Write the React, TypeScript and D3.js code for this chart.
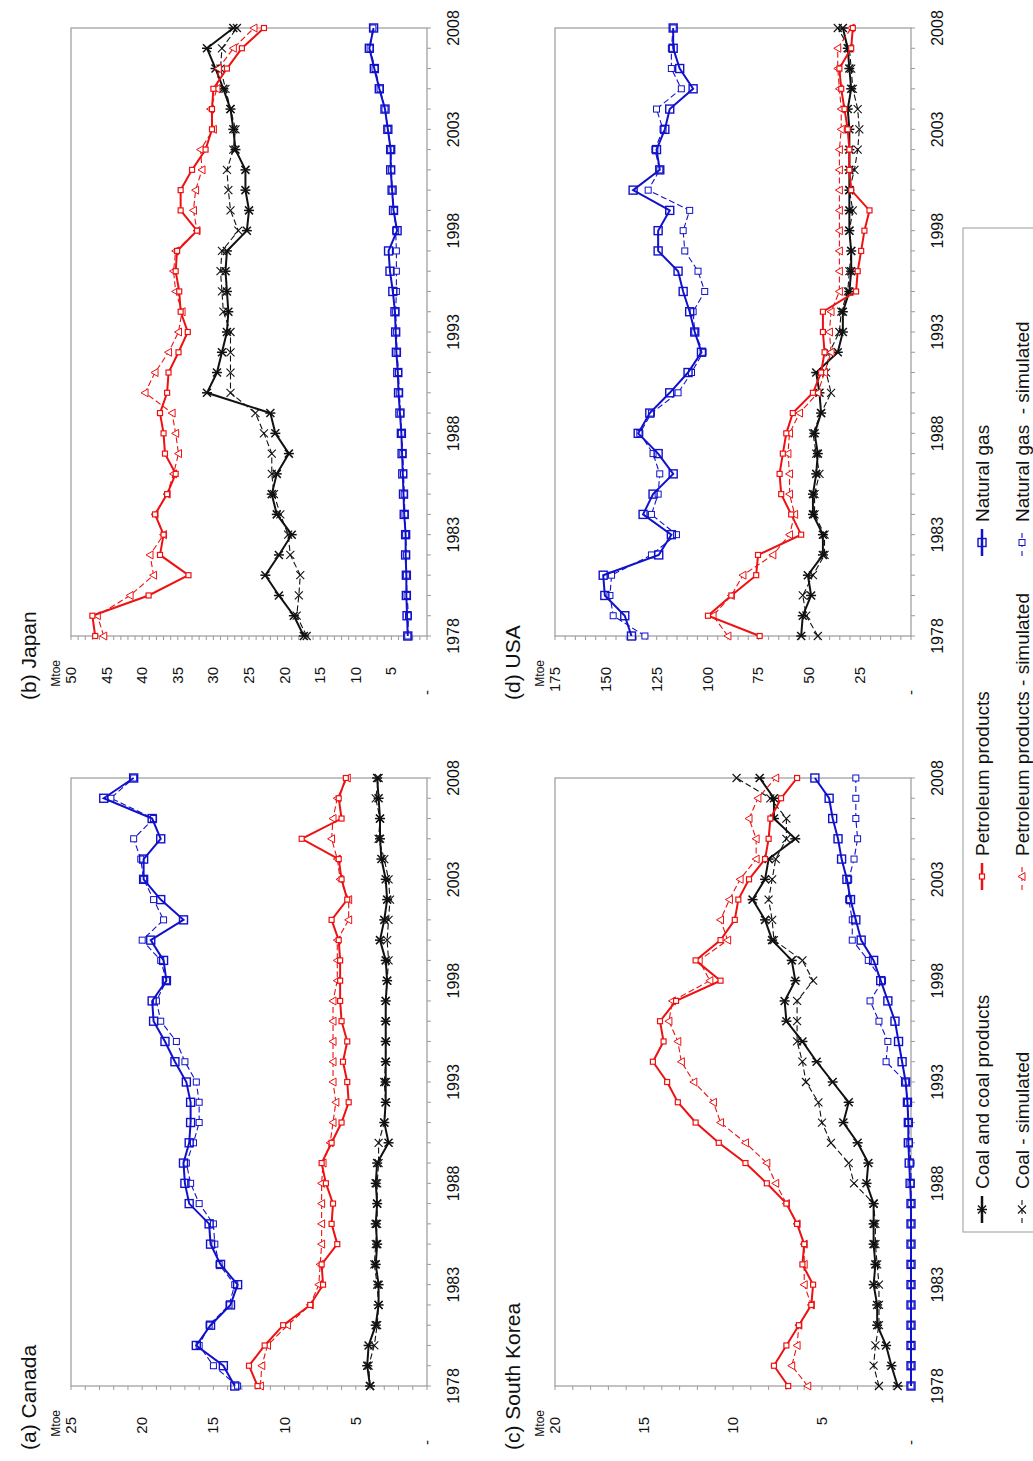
import React from 'react';
import * as d3 from 'd3';

const years = [1978,1979,1980,1981,1982,1983,1984,1985,1986,1987,1988,1989,1990,1991,1992,1993,1994,1995,1996,1997,1998,1999,2000,2001,2002,2003,2004,2005,2006,2007,2008];
const yearTicks = [1978, 1983, 1988, 1993, 1998, 2003, 2008];

// (a) Canada
const canCoal = [4.0,4.2,4.1,3.6,3.4,3.4,3.6,3.5,3.6,3.5,3.6,3.5,2.7,3.0,2.9,2.9,2.9,2.9,2.9,2.9,2.8,2.9,3.3,3.0,2.8,2.9,3.2,3.3,3.3,3.4,3.5];
const canCoalSim = [4.0,4.1,3.7,3.5,3.4,3.5,3.7,3.6,3.5,3.5,3.5,3.4,3.4,3.0,2.9,3.0,2.9,2.9,2.9,2.9,2.8,2.7,2.8,2.7,2.6,2.7,3.0,3.4,3.3,3.6,3.4];
const canPet = [11.9,12.5,11.4,10.1,8.2,7.3,7.4,6.3,6.7,6.6,7.1,7.4,6.7,6.0,5.5,5.6,5.9,5.6,6.0,6.1,6.1,6.1,6.2,6.7,5.6,6.0,6.2,8.8,6.0,6.2,5.7];
const canPetSim = [11.7,11.6,11.2,9.8,8.2,7.6,7.5,7.4,7.4,7.4,7.4,7.3,6.8,6.6,6.4,6.6,6.6,6.6,6.6,6.6,6.3,6.3,6.3,5.5,5.5,6.1,6.3,6.7,6.6,6.3,5.6];
const canGas = [13.5,14.3,16.2,15.2,13.8,13.3,14.5,15.2,15.3,16.7,17.0,17.1,16.7,16.6,16.6,16.9,17.7,18.4,19.2,19.3,18.3,18.5,19.4,17.1,18.7,19.9,19.9,18.7,19.3,22.7,20.6];
const canGasSim = [13.3,15.0,16.0,15.3,13.9,13.5,14.6,14.9,15.0,16.0,16.6,16.9,16.4,16.0,16.0,16.2,17.0,17.6,18.7,19.0,18.3,18.7,20.0,18.5,19.2,19.9,20.1,20.6,19.2,22.2,20.6];

// (b) Japan
const jpCoal = [17.3,18.7,20.8,22.7,20.8,19.0,21.1,21.8,21.1,19.4,21.3,22.0,30.9,29.5,28.8,28.1,27.9,28.1,28.3,28.1,25.3,25.0,25.5,25.5,26.9,27.2,27.6,28.6,29.7,30.9,27.2];
const jpCoalSim = [16.9,18.3,18.0,17.8,19.2,19.5,20.6,21.5,21.8,21.8,22.9,24.1,27.6,27.6,27.6,27.6,28.6,28.8,29.0,28.8,26.5,27.6,27.9,28.1,27.2,26.9,27.6,28.3,29.0,28.8,26.7];
const jpPet = [46.6,47.0,39.1,33.5,37.5,37.0,38.2,36.5,35.3,36.8,37.0,37.5,36.5,36.3,34.9,33.6,34.6,34.8,35.3,35.1,32.3,34.6,34.6,33.0,31.1,30.2,30.2,30.0,28.1,26.0,22.9];
const jpPetSim = [45.4,46.3,41.7,38.4,38.9,37.0,38.2,36.5,35.6,34.9,35.3,35.8,39.6,38.2,36.3,34.9,34.4,35.3,35.6,35.3,32.3,32.8,32.5,31.6,31.8,30.0,30.4,29.5,29.3,27.2,24.3];
const jpGas = [2.7,2.8,2.9,2.9,3.0,3.0,3.2,3.3,3.4,3.5,3.6,3.8,4.0,4.1,4.3,4.4,4.5,4.8,5.2,5.4,4.2,4.7,4.9,5.1,5.1,5.5,5.9,6.7,7.4,8.1,7.5];
const jpGasSim = [2.7,2.6,2.8,2.9,2.9,3.0,3.1,3.2,3.3,3.4,3.6,3.7,3.9,4.0,4.2,4.3,4.4,4.3,4.3,4.3,4.4,4.6,4.9,5.0,5.1,5.5,5.9,6.6,7.3,8.0,7.6];

// (c) South Korea
const skCoal = [0.75,1.1,1.4,1.9,1.9,2.1,2.0,2.1,2.1,2.1,2.5,2.4,3.0,3.8,3.5,4.4,5.3,6.1,7.0,7.1,6.5,6.7,7.8,8.2,8.9,8.2,8.0,6.5,7.7,7.7,8.5];
const skCoalSim = [1.8,2.1,2.0,1.8,1.8,1.8,1.9,2.0,2.0,2.1,3.2,3.5,4.5,5.0,5.2,5.9,6.1,6.4,6.4,6.4,5.5,6.1,7.7,7.8,8.0,7.8,7.6,7.0,7.0,7.9,9.8];
const skPet = [6.9,7.7,7.0,6.3,5.6,5.5,6.1,6.0,6.4,7.0,8.1,9.3,10.8,12.1,13.1,13.7,14.5,13.9,14.1,13.2,10.7,12.1,10.7,9.9,9.7,9.1,8.2,8.0,7.9,7.3,6.4];
const skPetSim = [5.8,6.7,6.4,6.3,5.6,6.0,6.0,6.0,6.4,7.0,7.6,8.1,9.3,10.7,11.1,12.2,12.9,13.1,13.6,13.4,11.3,11.9,10.3,10.7,10.2,9.6,8.7,8.7,9.1,8.6,7.6];
const skGas = [0,0,0,0,0,0,0,0,0,0,0.05,0.1,0.15,0.15,0.2,0.3,0.5,0.7,0.9,1.3,1.7,2.1,2.8,3.1,3.4,3.6,3.9,4.1,4.4,4.6,5.4];
const skGasSim = [0,0,0,0,0,0,0,0,0,0,0,0,0.1,0.15,0.2,0.3,1.4,1.3,1.8,2.3,1.6,2.4,3.3,3.3,3.5,3.5,3.2,3.0,3.1,3.1,3.1];

// (d) USA
const usCoal = [54.0,53.2,49.1,50.7,43.3,43.3,48.2,48.2,46.6,45.8,47.4,44.2,45.0,46.6,36.0,33.5,33.5,30.3,29.4,29.4,30.3,30.3,30.3,30.3,30.3,30.3,31.1,29.4,30.3,31.1,33.5];
const usCoalSim = [45.8,51.5,53.2,48.2,42.5,42.5,47.4,47.4,45.0,46.6,48.2,44.2,39.3,41.7,40.1,35.2,34.3,31.1,30.3,29.4,30.3,28.6,30.3,27.8,26.2,25.4,26.2,28.6,29.4,30.3,36.0];
const usPet = [74.4,99.8,88.3,76.1,75.2,54.0,58.9,63.8,64.6,63.0,61.3,58.1,48.2,44.2,42.5,43.3,43.3,27.0,26.2,24.5,22.9,20.4,29.4,30.3,30.3,31.1,32.7,34.3,35.2,29.4,28.6];
const usPetSim = [90.0,97.3,88.3,82.6,67.9,59.7,57.2,59.7,59.7,60.5,59.7,54.8,45.8,42.5,39.3,40.1,39.3,35.2,35.2,35.2,35.2,35.2,35.2,35.2,35.2,34.3,34.3,35.2,36.0,36.0,29.4];
const usGas = [137.4,140.7,150.5,151.3,124.0,117.8,131.7,126.8,116.9,124.3,134.1,128.4,118.6,109.6,103.0,106.3,108.8,112.0,114.5,124.3,124.3,118.6,136.6,123.5,125.1,121.0,118.6,107.1,113.7,116.9,116.9];
const usGasSim = [130.8,146.4,148.0,147.2,127.6,115.3,127.6,124.3,123.5,126.8,133.3,127.6,114.5,107.9,102.2,106.3,107.1,101.4,104.7,111.2,112.0,108.8,129.2,123.5,125.9,121.9,125.1,112.9,117.8,117.8,116.9];

const legendLabels = [
  'Coal and coal products', 'Petroleum products', 'Natural gas',
  'Coal - simulated', 'Petroleum products - simulated', 'Natural gas \u00a0- simulated'
];

const RED = '#ee1111';
const BLUE = '#1111cc';
const BLACK = '#111111';
const GRAY = '#9a9a9a';
const FONT = '"Liberation Sans", Arial, Helvetica, sans-serif';

type MType = 'star' | 'x' | 'sqS' | 'tri' | 'sqL' | 'sqM';
const seriesStyles: { color: string; dashed: boolean; marker: MType }[] = [
  { color: BLACK, dashed: false, marker: 'star' },
  { color: RED, dashed: false, marker: 'sqS' },
  { color: BLUE, dashed: false, marker: 'sqL' },
  { color: BLACK, dashed: true, marker: 'x' },
  { color: RED, dashed: true, marker: 'tri' },
  { color: BLUE, dashed: true, marker: 'sqM' },
];

function Marker({ type, cx, cy, color }: { type: MType; cx: number; cy: number; color: string }) {
  switch (type) {
    case 'star':
      return (
        <g stroke={color} strokeWidth={1.5}>
          <line x1={cx - 4} y1={cy - 4} x2={cx + 4} y2={cy + 4} />
          <line x1={cx - 4} y1={cy + 4} x2={cx + 4} y2={cy - 4} />
          <line x1={cx} y1={cy - 5} x2={cx} y2={cy + 5} />
        </g>
      );
    case 'x':
      return (
        <g stroke={color} strokeWidth={1.1}>
          <line x1={cx - 4} y1={cy - 4} x2={cx + 4} y2={cy + 4} />
          <line x1={cx - 4} y1={cy + 4} x2={cx + 4} y2={cy - 4} />
        </g>
      );
    case 'sqS':
      return <rect x={cx - 2.5} y={cy - 2.5} width={5} height={5} fill="white" stroke={color} strokeWidth={1.2} />;
    case 'tri':
      return <path d={`M${cx},${cy - 4}L${cx + 4},${cy + 3}L${cx - 4},${cy + 3}Z`} fill="white" stroke={color} strokeWidth={1} />;
    case 'sqL':
      return <rect x={cx - 4} y={cy - 4} width={8} height={8} fill="none" stroke={color} strokeWidth={1.4} />;
    case 'sqM':
      return <rect x={cx - 3} y={cy - 3} width={6} height={6} fill="white" stroke={color} strokeWidth={1} />;
  }
  return null;
}

const PW = 608;
const PH = 356;

function Panel({ title, yMax, yStep, left, top, series }: {
  title: string; yMax: number; yStep: number; left: number; top: number; series: number[][];
}) {
  const x = d3.scaleLinear().domain([1978, 2008]).range([left, left + PW]);
  const y = d3.scaleLinear().domain([0, yMax]).range([top + PH, top]);
  const majors = d3.range(0, yMax + yStep / 2, yStep);
  const minors = d3.range(0, yMax + yStep / 10, yStep / 5);
  const line = d3.line<number>().x((_, i) => x(years[i])).y(d => y(d));
  const order = [3, 0, 4, 1, 5, 2];
  const ordered = order.map(k => ({ k, data: series[k] }));
  return (
    <g>
      <text x={left - 64} y={top - 35} fontSize={21} fontFamily={FONT} fill="#111">{title}</text>
      <rect x={left} y={top} width={PW} height={PH} fill="none" stroke={GRAY} strokeWidth={1.2} />
      {minors.map((v, i) => (
        <line key={'mt' + i} x1={left - 4} x2={left} y1={y(v)} y2={y(v)} stroke={GRAY} strokeWidth={1} />
      ))}
      {years.map(yr => (
        <line key={'yt' + yr} x1={x(yr)} x2={x(yr)} y1={top + PH} y2={top + PH + 4} stroke={GRAY} strokeWidth={1} />
      ))}
      {majors.map(v => (
        <text key={'vl' + v} x={v === 0 ? left - 54 : left - 31} y={y(v) + 5} fontSize={15} textAnchor="end" fontFamily={FONT} fill="#111">
          {v === 0 ? '-' : String(v)}
        </text>
      ))}
      <text x={left - 24} y={top - 11} fontSize={12} textAnchor="end" fontFamily={FONT} fill="#111">Mtoe</text>
      {yearTicks.map(yr => (
        <text key={'yl' + yr} x={x(yr)} y={top + PH + 32} fontSize={16} textAnchor="middle" fontFamily={FONT} fill="#111">{yr}</text>
      ))}
      {ordered.map(({ k, data }) => {
        const st = seriesStyles[k];
        return (
          <g key={'s' + k}>
            <path d={line(data) || ''} fill="none" stroke={st.color}
              strokeWidth={st.dashed ? 1.1 : 2}
              strokeDasharray={st.dashed ? '6,3' : undefined} />
            {data.map((v, i) => (
              <Marker key={i} type={st.marker} cx={x(years[i])} cy={y(v)} color={st.color} />
            ))}
          </g>
        );
      })}
    </g>
  );
}

function Legend() {
  const cols = [238, 571, 905];
  const rows = [982, 1022];
  return (
    <g>
      <rect x={229} y={963} width={1004} height={100} fill="none" stroke={GRAY} strokeWidth={1} />
      {seriesStyles.map((st, i) => {
        const cx0 = cols[i % 3];
        const cy = rows[Math.floor(i / 3)];
        return (
          <g key={'lg' + i}>
            <line x1={cx0} x2={cx0 + 27} y1={cy} y2={cy} stroke={st.color}
              strokeWidth={st.dashed ? 1.1 : 2.5} strokeDasharray={st.dashed ? '5,4' : undefined} />
            <Marker type={st.marker} cx={cx0 + 13.5} cy={cy} color={st.color} />
            <text x={cx0 + 34} y={cy + 7} fontSize={19} fontFamily={FONT} fill="#111">{legendLabels[i]}</text>
          </g>
        );
      })}
    </g>
  );
}

export default function App() {
  return (
    <svg width={1033} height={1461} style={{ position: 'absolute', left: 0, top: 0, background: 'white' }}>
      <rect x={0} y={0} width={1033} height={1461} fill="white" />
      <g transform="translate(0,1461) rotate(-90)">
        <Panel title="(a) Canada" yMax={25} yStep={5} left={75} top={71}
          series={[canCoal, canPet, canGas, canCoalSim, canPetSim, canGasSim]} />
        <Panel title="(b) Japan" yMax={50} yStep={5} left={825} top={71}
          series={[jpCoal, jpPet, jpGas, jpCoalSim, jpPetSim, jpGasSim]} />
        <Panel title="(c) South Korea" yMax={20} yStep={5} left={75} top={555}
          series={[skCoal, skPet, skGas, skCoalSim, skPetSim, skGasSim]} />
        <Panel title="(d) USA" yMax={175} yStep={25} left={825} top={555}
          series={[usCoal, usPet, usGas, usCoalSim, usPetSim, usGasSim]} />
        <Legend />
      </g>
    </svg>
  );
}
